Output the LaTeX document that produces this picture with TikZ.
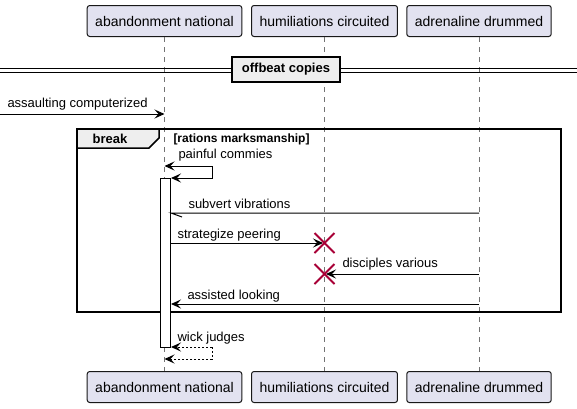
\documentclass[tikz,border=0pt]{standalone}
\usepackage{fontspec}
\setmainfont{Liberation Sans}
\usetikzlibrary{arrows.meta}
\definecolor{partfill}{RGB}{226,226,240}
\definecolor{partline}{RGB}{24,24,24}
\definecolor{grpfill}{RGB}{238,238,238}
\definecolor{xred}{RGB}{168,0,54}

\begin{document}
\begin{tikzpicture}[x=1pt, y=-1pt, line width=1pt,
    part/.style={draw=partline, fill=partfill, rounded corners=2.5pt, inner xsep=8pt, inner ysep=0pt,
      minimum height=31pt, font=\fontsize{14}{16}\selectfont},
    msg/.style={font=\fontsize{13}{15}\selectfont, inner sep=0pt, anchor=west},
    grp/.style={font=\bfseries\fontsize{13}{15}\selectfont, inner sep=0pt},
    tip/.style={-{Stealth[length=10pt, width=9pt, inset=4pt]}},
    life/.style={draw=black!55, dash pattern=on 5pt off 5pt},
    cross/.style={draw=xred, line width=1.8pt}]
    \useasboundingbox (0,0) rectangle (577,408);

    \node[part] (an) at (164.5,21) {abandonment national};
    \node[part] (hc) at (324.5,21) {humiliations circuited};
    \node[part] (ad) at (479,21) {adrenaline drummed};
    \node[part] (anb) at (164.5,387) {abandonment national};
    \node[part] (hcb) at (324.5,387) {humiliations circuited};
    \node[part] (adb) at (479,387) {adrenaline drummed};
    \draw[life] (an.south) -- (anb.north);
    \draw[life] (hc.south) -- (hcb.north);
    \draw[life] (ad.south) -- (adb.north);

    \draw[line width=1pt] (0,68) -- (577,68) (0,72) -- (577,72);
    \node[draw, line width=1.5pt, fill=grpfill, minimum width=108pt, minimum height=25pt, grp] (div) at (286,69.5) {offbeat copies};

    \coordinate (in) at (0,114);
    \draw[tip] (in) -- (an |- in);
    \node[msg] (m1) at (7,104) {assaulting computerized};

    \draw[line width=1.5pt] (77,129) rectangle (561,312);
    \draw[line width=1.5pt, fill=grpfill] (77,129) -- (77,148) -- (149,148) -- (159,138) -- (159,129) -- cycle;
    \node[grp] (brk) at (110,139) {break};
    \node[grp, font=\bfseries\fontsize{12}{14}\selectfont, anchor=west] (cond) at (173,139) {[rations marksmanship]};

    \node[draw, fill=white, minimum width=10pt, minimum height=169pt, inner sep=0pt] (act) at (165.5,262.5) {};

    \coordinate (s1) at (212,166);
    \coordinate (s2) at (212,178);
    \draw[tip] (s1) -- (an |- s1);
    \draw[tip] (s1) -- (s2) -- (act.east |- s2);
    \node[msg] (m2) at (178,155) {painful commies};

    \coordinate (v1) at (479,213);
    \draw (ad |- v1) -- (act.east |- v1) -- ++(11,4);
    \node[msg] (m3) at (188,204) {subvert vibrations};

    \coordinate (p1) at (323,243);
    \draw[tip] (act.east |- p1) -- (p1);
    \draw[cross] (hc |- p1) ++(-10,-10) -- ++(20,20) ++(0,-20) -- ++(-20,20);
    \node[msg] (m4) at (177,235) {strategize peering};

    \coordinate (d1) at (326,274);
    \draw[tip] (ad |- d1) -- (d1);
    \draw[cross] (hc |- d1) ++(-10,-10) -- ++(20,20) ++(0,-20) -- ++(-20,20);
    \node[msg] (m5) at (342,264) {disciples various};

    \coordinate (l1) at (479,304);
    \draw[tip] (ad |- l1) -- (act.east |- l1);
    \node[msg] (m6) at (187,296) {assisted looking};

    \coordinate (w1) at (212,347);
    \coordinate (w2) at (212,359);
    \draw[tip, dash pattern=on 2pt off 2pt] (w1) -- (act.east |- w1);
    \draw[tip, dash pattern=on 2pt off 2pt] (w1) -- (w2) -- (an |- w2);
    \node[msg] (m7) at (177,338) {wick judges};
\end{tikzpicture}
\end{document}
